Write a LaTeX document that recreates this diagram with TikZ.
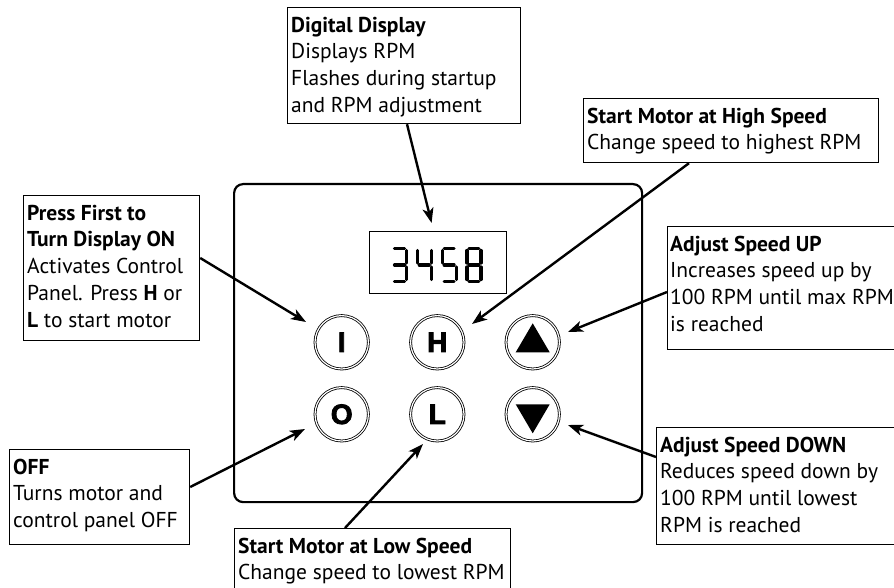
\documentclass[tikz,border=0pt]{standalone}
\usepackage{fontspec}
\usetikzlibrary{arrows.meta,calc}
\newfontfamily\notefamily{PT Sans}
\newfontface\keyface[FakeBold=3]{Liberation Sans Bold}
% strut that puts the first baseline 25pt below the top of a callout
\newcommand\firstline{\rule{0pt}{25pt}}
% seven-segment strokes, relative to the top-left corner of one digit cell
\newcommand\sgA{\draw[seg] (3.5,1.5) -- (13.5,1.5);}
\newcommand\sgB{\draw[seg] (15.5,3.5) -- (15.5,16);}
\newcommand\sgC{\draw[seg] (15.5,20) -- (15.5,32.5);}
\newcommand\sgD{\draw[seg] (3.5,34.5) -- (13.5,34.5);}
\newcommand\sgE{\draw[seg] (1.5,20) -- (1.5,32.5);}
\newcommand\sgF{\draw[seg] (1.5,3.5) -- (1.5,16);}
\newcommand\sgG{\draw[seg] (3.5,18) -- (13.5,18);}
\tikzset{
  callout/.style={draw, line width=1.2pt, anchor=north west, inner sep=0pt},
  callouttext/.style={anchor=north west, align=left, inner sep=0pt,
    font=\notefamily\fontsize{21.5}{26.7}\selectfont},
  arr/.style={line width=2.4pt, -{Stealth[length=15pt,width=11pt,inset=4pt]}},
  keybtn/.style={circle, draw, double, double distance=1.2pt, line width=0.8pt,
    minimum size=53.4pt, inner sep=0pt, font=\keyface\fontsize{28}{28}\selectfont},
  seg/.style={line width=3.2pt, line cap=round},
}
\begin{document}
\begin{tikzpicture}[x=1pt,y=-1pt]
\useasboundingbox (0,0) rectangle (894,588);
\clip (0,0) rectangle (894,588);

% control panel housing
\node[draw, rounded corners=9pt, line width=2.2pt, minimum width=408pt,
      minimum height=318pt, anchor=north west, inner sep=0pt] (panel) at (233,183) {};

% digital read-out
\node[draw, line width=1.2pt, minimum width=137pt, minimum height=62pt,
      anchor=north west, inner sep=0pt] (display) at (369,231) {};
\begin{scope}[shift={(391,247)}]\sgA\sgB\sgC\sgD\sgG\end{scope}
\begin{scope}[shift={(415.8,247)}]\sgF\sgG\sgB\sgC\end{scope}
\begin{scope}[shift={(440.6,247)}]\sgA\sgF\sgG\sgC\sgD\end{scope}
\begin{scope}[shift={(465.4,247)}]\sgA\sgB\sgC\sgD\sgE\sgF\sgG\end{scope}

% keys
\node[keybtn] (btnI) at (341.7,342.3) {I};
\node[keybtn] (btnH) at (437.3,342.3) {H};
\node[keybtn] (btnUp) at (532.7,342.3) {};
\node[keybtn] (btnO) at (341.7,414.3) {O};
\node[keybtn] (btnL) at (437.3,414.3) {L};
\node[keybtn] (btnDown) at (532.7,414.3) {};
\fill ($(btnUp)+(-17,10)$) -- ($(btnUp)+(17,10)$) -- ($(btnUp)+(0,-19)$) -- cycle;
\fill ($(btnDown)+(-17,-10)$) -- ($(btnDown)+(17,-10)$) -- ($(btnDown)+(0,19)$) -- cycle;

% callouts
\node[callout, minimum width=233pt, minimum height=116pt] (dispnote) at (287,7) {};
\node[callouttext] at ($(dispnote.north west)+(4,0)$)
  {\firstline\textbf{Digital Display}\\Displays RPM\\Flashes during startup\\and RPM adjustment};

\node[callout, minimum width=176pt, minimum height=145pt] (firstnote) at (23,195) {};
\node[callouttext] at ($(firstnote.north west)+(4,0)$)
  {\firstline\textbf{Press First to}\\\textbf{Turn Display ON}\\Activates Control\\Panel. Press \textbf{H} or\\\textbf{L} to start motor};

\node[callout, minimum width=295pt, minimum height=64pt] (highnote) at (583,98) {};
\node[callouttext] at ($(highnote.north west)+(4,0)$)
  {\firstline\textbf{Start Motor at High Speed}\\Change speed to highest RPM};

\node[callout, minimum width=260pt, minimum height=123pt] (upnote) at (667,226) {};
\node[callouttext] at ($(upnote.north west)+(3,0)$)
  {\firstline\textbf{Adjust Speed UP}\\Increases speed up by\\100 RPM until max RPM\\is reached};

\node[callout, minimum width=270pt, minimum height=117pt] (downnote) at (656,427) {};
\node[callouttext] at ($(downnote.north west)+(4,0)$)
  {\firstline\textbf{Adjust Speed DOWN}\\Reduces speed down by\\100 RPM until lowest\\RPM is reached};

\node[callout, minimum width=180pt, minimum height=95pt] (offnote) at (9,449) {};
\node[callouttext] at ($(offnote.north west)+(4,0)$)
  {\firstline\textbf{OFF}\\Turns motor and\\control panel OFF};

\node[callout, minimum width=276pt, minimum height=75pt] (lownote) at (234,528) {};
\node[callouttext] at ($(lownote.north west)+(4,0)$)
  {\firstline\textbf{Start Motor at Low Speed}\\Change speed to lowest RPM};

% pointers
\draw[arr] ($(dispnote.south west)+(120,0)$) -- ($(display.north)+(-6.5,-8)$);
\draw[arr] ($(highnote.south west)+(106,0)$) -- ($(btnH)+(34.7,-18.3)$);
\draw[arr] ($(firstnote.north east)+(0,63)$) -- ($(btnI)+(-35.7,-20.3)$);
\draw[arr] ($(upnote.north west)+(0,66)$) -- ($(btnUp)+(35.3,-10.3)$);
\draw[arr] ($(downnote.north west)+(0,30)$) -- ($(btnDown)+(35.3,10.7)$);
\draw[arr] ($(offnote.north east)+(0,38)$) -- ($(btnO)+(-36.7,14.7)$);
\draw[arr] ($(lownote.north west)+(111,0)$) -- ($(btnL)+(-14.3,29.7)$);
\end{tikzpicture}
\end{document}
